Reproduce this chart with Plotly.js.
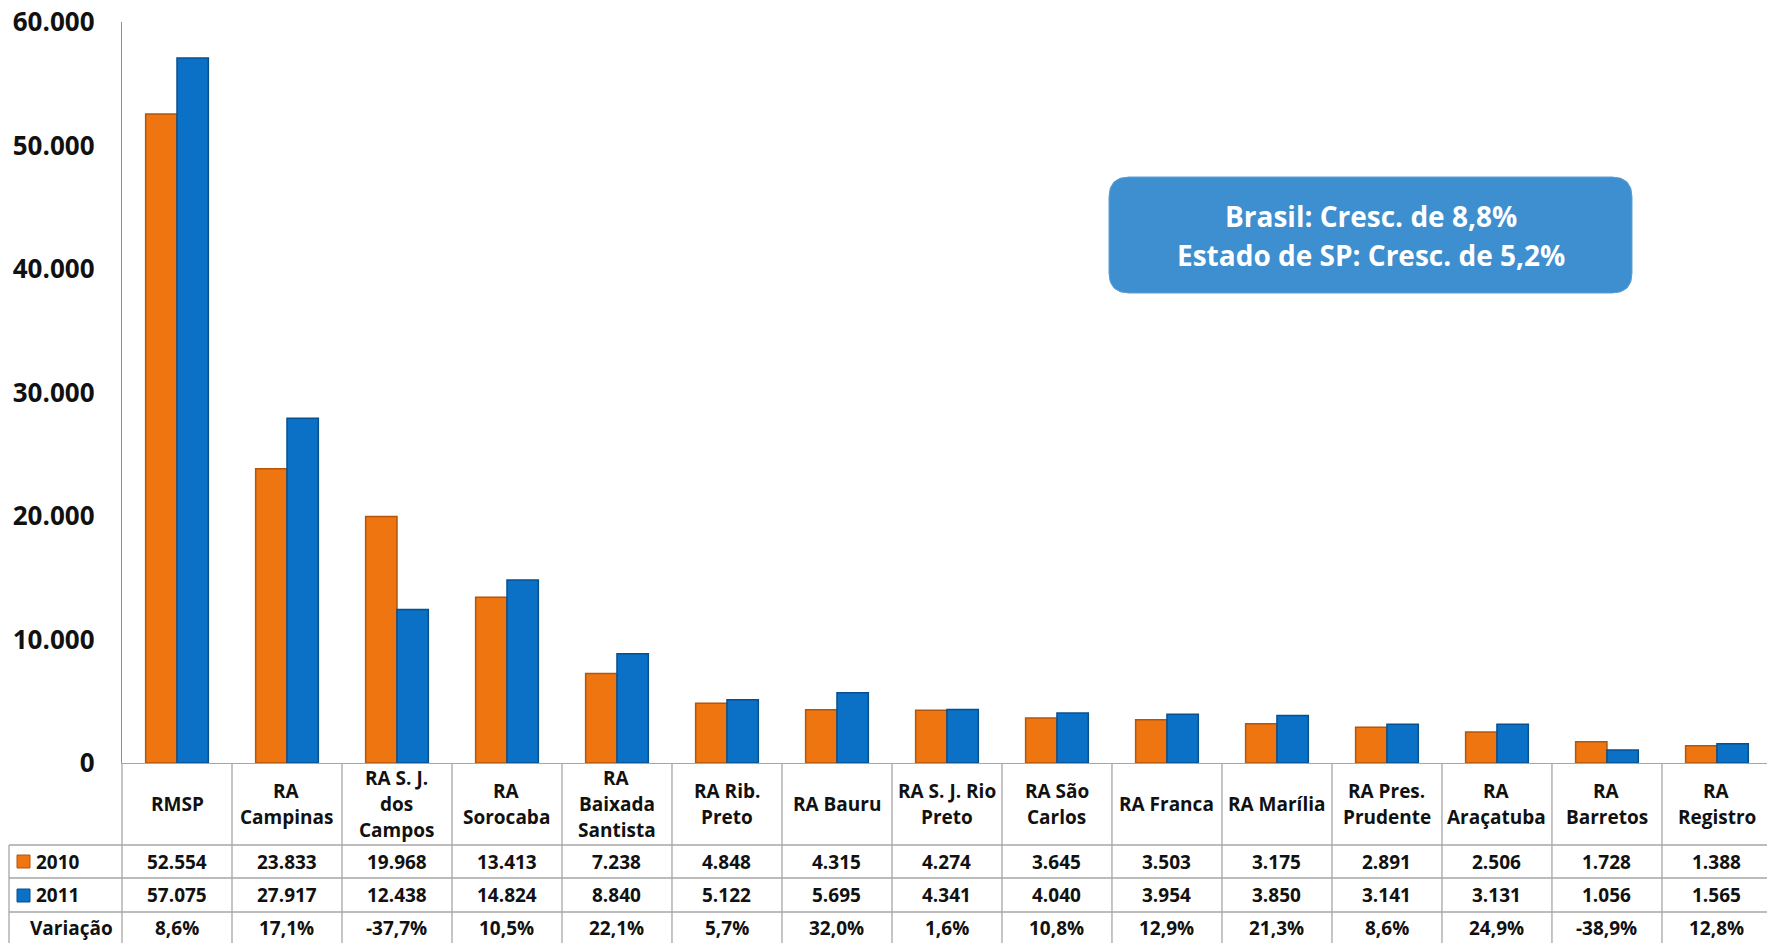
<!DOCTYPE html>
<html>
<head>
<meta charset="utf-8">
<script src="https://cdn.plot.ly/plotly-3.0.1.min.js"></script>
<style>html,body{margin:0;padding:0;background:#fff;}#chart{width:1767px;height:943px;}</style>
</head>
<body>
<div id="chart"></div>
<script>
// ---- Data ----
const categories = ["RMSP", "RA<br>Campinas", "RA S. J.<br>dos<br>Campos", "RA<br>Sorocaba", "RA<br>Baixada<br>Santista",
  "RA Rib.<br>Preto", "RA Bauru", "RA S. J. Rio<br>Preto", "RA São<br>Carlos", "RA Franca", "RA Marília",
  "RA Pres.<br>Prudente", "RA<br>Araçatuba", "RA<br>Barretos", "RA<br>Registro"];
const values2010 = [52554, 23833, 19968, 13413, 7238, 4848, 4315, 4274, 3645, 3503, 3175, 2891, 2506, 1728, 1388];
const values2011 = [57075, 27917, 12438, 14824, 8840, 5122, 5695, 4341, 4040, 3954, 3850, 3141, 3131, 1056, 1565];
const variacao = ["8,6%", "17,1%", "-37,7%", "10,5%", "22,1%", "5,7%", "32,0%", "1,6%", "10,8%", "12,9%", "21,3%", "8,6%", "24,9%", "-38,9%", "12,8%"];
const seriesNames = ["2010", "2011"];
const rowLabels = ["2010", "2011", "Variação"];
const yTicks = [0, 10000, 20000, 30000, 40000, 50000, 60000];
const noteLines = ["Brasil: Cresc. de 8,8%", "Estado de SP: Cresc. de 5,2%"];

// ---- Layout geometry ----
const W = 1767, H = 943;
const L = 122, R = 0, T = 22, B = 180;
const plotW = W - L - R, plotH = H - T - B;
const xr = [-0.5, 14.455];
const FONT = '"Open Sans", "Noto Sans", "DejaVu Sans", sans-serif';
const ORANGE = '#EF7511', ORANGE_D = '#B3560C';
const BLUE = '#0A71C6', BLUE_D = '#075090';
const GRID = '#A6A6A6';
const TFS = 19;

const xs = categories.map((_, i) => i);
function px2x(p) { return (p - L) / plotW; }
function py2y(p) { return (T + plotH - p) / plotH; }
function d2x(d) { return (d - xr[0]) / (xr[1] - xr[0]); }
function fmt(n) { return String(n).replace(/\B(?=(\d{3})+(?!\d))/g, '.'); }

const traces = [
  { type: 'bar', x: xs, y: values2010, name: seriesNames[0],
    marker: { color: ORANGE, line: { color: ORANGE_D, width: 1.5 } }, hoverinfo: 'skip' },
  { type: 'bar', x: xs, y: values2011, name: seriesNames[1],
    marker: { color: BLUE, line: { color: BLUE_D, width: 1.5 } }, hoverinfo: 'skip' }
];

const shapes = [];
const annotations = [];
const lineStyle = { color: GRID, width: 1.3 };

// table grid: vertical column lines
const rowTop = 763, r1 = 845, r2 = 878, r3 = 912, rowBot = 943;
for (let i = 0; i <= categories.length; i++) {
  const xp = d2x(i - 0.5);
  shapes.push({ type: 'line', xref: 'paper', yref: 'paper', x0: xp, x1: xp, y0: py2y(rowTop), y1: py2y(rowBot), line: lineStyle });
}
shapes.push({ type: 'line', xref: 'paper', yref: 'paper', x0: px2x(9), x1: px2x(9), y0: py2y(r1), y1: py2y(rowBot), line: lineStyle });
[r1, r2, r3].forEach(yy => {
  shapes.push({ type: 'line', xref: 'paper', yref: 'paper', x0: px2x(9), x1: 1, y0: py2y(yy), y1: py2y(yy), line: lineStyle });
});
// legend keys
[[855, ORANGE, ORANGE_D], [889, BLUE, BLUE_D]].forEach(k => {
  shapes.push({ type: 'rect', xref: 'paper', yref: 'paper', x0: px2x(17), x1: px2x(30), y0: py2y(k[0]), y1: py2y(k[0] + 13),
    fillcolor: k[1], line: { color: k[2], width: 1 } });
});

const tfont = { family: FONT, size: TFS, color: '#111', weight: 'bold' };
// header labels (each line placed separately for Excel-like spacing) and values
const rowCenters = [861.5, 895, 927.5];
const lineGap = 26;
categories.forEach((c, i) => {
  const lines = c.split('<br>');
  lines.forEach((ln, k) => {
    const yc = 804 + (k - (lines.length - 1) / 2) * lineGap;
    annotations.push({ xref: 'x', yref: 'paper', x: i, y: py2y(yc), text: ln, showarrow: false,
      font: tfont, xanchor: 'center', yanchor: 'middle' });
  });
  [fmt(values2010[i]), fmt(values2011[i]), variacao[i]].forEach((t, r) => {
    annotations.push({ xref: 'x', yref: 'paper', x: i, y: py2y(rowCenters[r]), text: t, showarrow: false,
      font: tfont, xanchor: 'center', yanchor: 'middle' });
  });
});
// row labels
annotations.push({ xref: 'paper', yref: 'paper', x: px2x(34), y: py2y(rowCenters[0]), text: rowLabels[0], showarrow: false,
  font: tfont, xanchor: 'left', yanchor: 'middle' });
annotations.push({ xref: 'paper', yref: 'paper', x: px2x(34), y: py2y(rowCenters[1]), text: rowLabels[1], showarrow: false,
  font: tfont, xanchor: 'left', yanchor: 'middle' });
annotations.push({ xref: 'paper', yref: 'paper', x: px2x(115), y: py2y(rowCenters[2]), text: rowLabels[2], showarrow: false,
  font: tfont, xanchor: 'right', yanchor: 'middle' });

// rounded note box
const bx0 = 1109, bx1 = 1632, by0 = 177, by1 = 293, rad = 20;
function P(x, y) { return px2x(x) + ',' + py2y(y); }
const boxPath = 'M' + P(bx0 + rad, by0) + ' L' + P(bx1 - rad, by0) + ' Q' + P(bx1, by0) + ' ' + P(bx1, by0 + rad) +
  ' L' + P(bx1, by1 - rad) + ' Q' + P(bx1, by1) + ' ' + P(bx1 - rad, by1) +
  ' L' + P(bx0 + rad, by1) + ' Q' + P(bx0, by1) + ' ' + P(bx0, by1 - rad) +
  ' L' + P(bx0, by0 + rad) + ' Q' + P(bx0, by0) + ' ' + P(bx0 + rad, by0) + ' Z';
shapes.push({ type: 'path', xref: 'paper', yref: 'paper', path: boxPath, fillcolor: '#3D8FD0', line: { color: '#5A9FD6', width: 1 } });
annotations.push({ xref: 'paper', yref: 'paper', x: px2x((bx0 + bx1) / 2), y: py2y(216), text: noteLines[0], showarrow: false,
  font: { family: FONT, size: 28, color: '#fff', weight: 'bold' }, xanchor: 'center', yanchor: 'middle' });
annotations.push({ xref: 'paper', yref: 'paper', x: px2x((bx0 + bx1) / 2), y: py2y(255), text: noteLines[1], showarrow: false,
  font: { family: FONT, size: 28, color: '#fff', weight: 'bold' }, xanchor: 'center', yanchor: 'middle' });

const layout = {
  width: W, height: H,
  margin: { l: L, r: R, t: T, b: B, pad: 0 },
  paper_bgcolor: '#fff', plot_bgcolor: '#fff',
  separators: ',.',
  showlegend: false,
  barmode: 'group', bargap: 0.43, bargroupgap: 0,
  font: { family: FONT, color: '#111' },
  xaxis: { range: xr, showticklabels: false, ticks: '', showgrid: false, zeroline: false,
    showline: true, linecolor: GRID, linewidth: 1.3, fixedrange: true },
  yaxis: { range: [0, 60000], tickvals: yTicks, tickformat: ',d', showgrid: false, zeroline: false,
    showline: true, linecolor: '#8C8C8C', linewidth: 1.3, ticks: '', ticklabelstandoff: 21,
    tickfont: { family: FONT, size: 26, color: '#111', weight: 'bold' }, fixedrange: true },
  shapes: shapes,
  annotations: annotations
};

Plotly.newPlot('chart', traces, layout, { displayModeBar: false, staticPlot: true });
</script>
</body>
</html>
